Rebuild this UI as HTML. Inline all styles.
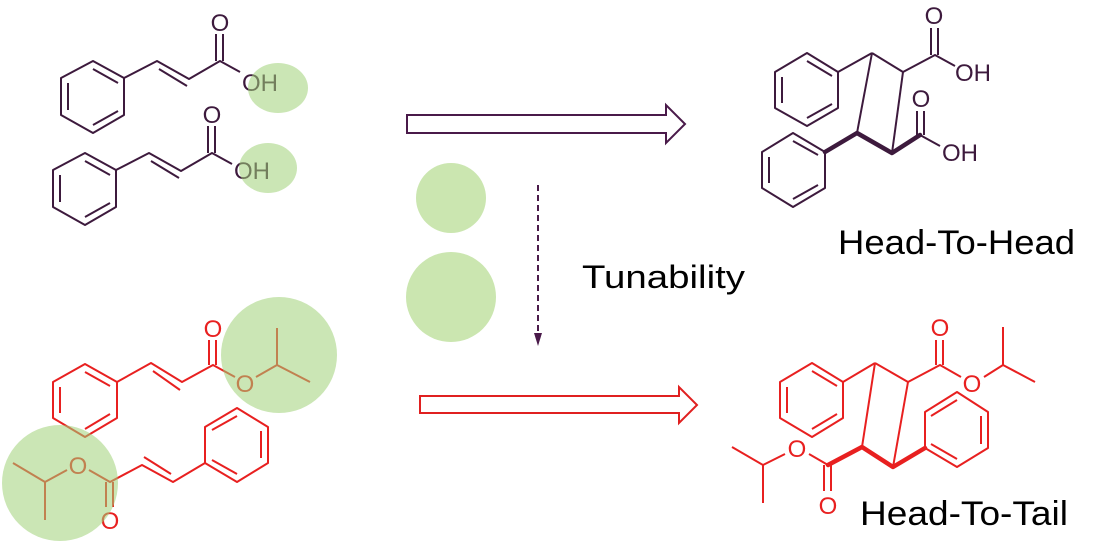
<!DOCTYPE html>
<html><head><meta charset="utf-8"><style>
html,body{margin:0;padding:0;background:#fff;}
svg{display:block;}
text{font-family:"Liberation Sans",sans-serif;}
</style></head><body>
<svg width="1102" height="560" viewBox="0 0 1102 560" xmlns="http://www.w3.org/2000/svg">
<g stroke="#3d1a3d" stroke-width="2" fill="none" stroke-linejoin="round">
  <polygon points="93,61 124,78 124,115 93,133 61,115 61,78"/>
  <line x1="68" y1="83" x2="68" y2="110"/><line x1="93" y1="69" x2="118" y2="83"/><line x1="93" y1="125" x2="118" y2="111"/>
  <polyline points="124,78 157,61 189,79 220,61 240,72"/>
  <line x1="159" y1="69" x2="187" y2="86"/>
  <line x1="216" y1="61" x2="216" y2="34"/><line x1="223" y1="61" x2="223" y2="34"/>
</g>
<g stroke="#3d1a3d" stroke-width="2" fill="none" stroke-linejoin="round" transform="translate(-8,92)">
  <polygon points="93,61 124,78 124,115 93,133 61,115 61,78"/>
  <line x1="68" y1="83" x2="68" y2="110"/><line x1="93" y1="69" x2="118" y2="83"/><line x1="93" y1="125" x2="118" y2="111"/>
  <polyline points="124,78 157,61 189,79 220,61 240,72"/>
  <line x1="159" y1="69" x2="187" y2="86"/>
  <line x1="216" y1="61" x2="216" y2="34"/><line x1="223" y1="61" x2="223" y2="34"/>
</g>
<g fill="#3d1a3d" font-size="24">
  <text x="220" y="31" text-anchor="middle">O</text>
  <text x="242" y="91">OH</text>
  <text x="212" y="123" text-anchor="middle">O</text>
  <text x="234" y="179">OH</text>
</g>

<g stroke="#3d1a3d" stroke-width="2" fill="none" stroke-linejoin="round">
  <polygon points="807,53 838,72 838,108 807,126 775,108 775,72"/>
  <line x1="782" y1="77" x2="782" y2="103"/><line x1="807" y1="61" x2="832" y2="76"/><line x1="807" y1="118" x2="832" y2="104"/>
  <line x1="838" y1="72" x2="872" y2="53"/>
  <line x1="872" y1="53" x2="903" y2="72"/>
  <line x1="872" y1="53" x2="857" y2="133"/>
  <line x1="903" y1="72" x2="892" y2="153"/>
  <polyline points="903,72 935,55 955,66"/>
  <line x1="931" y1="55" x2="931" y2="28"/><line x1="938" y1="55" x2="938" y2="28"/>
  <line x1="920" y1="135" x2="940" y2="146"/>
  <line x1="917" y1="135" x2="917" y2="111"/><line x1="924" y1="135" x2="924" y2="111"/>
  <polygon points="825,152 793,133 762,152 762,188 793,207 825,188"/>
  <line x1="769" y1="157" x2="769" y2="183"/><line x1="793" y1="141" x2="818" y2="155"/><line x1="793" y1="199" x2="818" y2="185"/>
</g>
<g stroke="#3d1a3d" stroke-width="4.5" fill="none" stroke-linejoin="round" stroke-linecap="round">
  <polyline points="825,152 857,133 892,153 920,135"/>
</g>
<g fill="#3d1a3d" font-size="24">
  <text x="934" y="24" text-anchor="middle">O</text>
  <text x="955" y="81">OH</text>
  <text x="921" y="107" text-anchor="middle">O</text>
  <text x="942" y="161">OH</text>
</g>
<text x="838" y="254" font-size="34" fill="#000" textLength="237" lengthAdjust="spacingAndGlyphs">Head-To-Head</text>

<polygon points="407,115 666,115 666,105 685,124 666,143 666,133 407,133" fill="#fff" stroke="#4a1a4a" stroke-width="2"/>
<polygon points="420,396 679,396 679,387 697,405 679,423 679,413 420,413" fill="#fff" stroke="#e02020" stroke-width="2"/>
<line x1="538" y1="185" x2="538" y2="336" stroke="#4a1a4a" stroke-width="2" stroke-dasharray="6,4"/>
<polygon points="534,333 542,333 538,346" fill="#4a1a4a"/>
<circle cx="451" cy="198" r="35" fill="#cbe6b0"/>
<circle cx="451" cy="297" r="45" fill="#cbe6b0"/>
<text x="582" y="288" font-size="32" fill="#000" textLength="163" lengthAdjust="spacingAndGlyphs">Tunability</text>

<g stroke="#e82020" stroke-width="2" fill="none" stroke-linejoin="round">
  <polygon points="53,382 85,364 117,382 117,418 85,437 53,418"/>
  <line x1="60" y1="387" x2="60" y2="413"/><line x1="85" y1="372" x2="110" y2="386"/><line x1="85" y1="429" x2="110" y2="414"/>
  <polyline points="117,382 151,363 182,382 213,365 235,377"/>
  <line x1="153" y1="371" x2="180" y2="390"/>
  <line x1="209" y1="365" x2="209" y2="340"/><line x1="216" y1="365" x2="216" y2="340"/>
  <polyline points="256,377 277,365 310,382"/><line x1="277" y1="365" x2="277" y2="328"/>
  <polygon points="237,408 268,427 268,463 237,482 205,463 205,427"/>
  <line x1="261" y1="431" x2="261" y2="458"/><line x1="237" y1="416" x2="212" y2="430"/><line x1="237" y1="474" x2="212" y2="460"/>
  <polyline points="205,463 173,482 142,465 110,482 89,470"/>
  <line x1="171" y1="474" x2="144" y2="457"/>
  <line x1="106" y1="482" x2="106" y2="507"/><line x1="113" y1="482" x2="113" y2="507"/>
  <polyline points="67,470 45,482 13,463"/><line x1="45" y1="482" x2="45" y2="520"/>
</g>
<g fill="#e82020" font-size="24">
  <text x="213" y="337" text-anchor="middle">O</text>
  <text x="245" y="392" text-anchor="middle">O</text>
  <text x="110" y="529" text-anchor="middle">O</text>
  <text x="78" y="474" text-anchor="middle">O</text>
</g>

<g fill="rgb(160,210,120)" fill-opacity="0.55">
  <ellipse cx="278" cy="88" rx="30" ry="25"/>
  <ellipse cx="268" cy="168" rx="29" ry="25"/>
  <circle cx="279" cy="355" r="58"/>
  <circle cx="60" cy="483" r="58"/>
</g>

<g stroke="#e82020" stroke-width="2" fill="none" stroke-linejoin="round">
  <polygon points="812,363 843,382 843,418 812,437 780,418 780,382"/>
  <line x1="787" y1="387" x2="787" y2="413"/><line x1="812" y1="371" x2="837" y2="386"/><line x1="812" y1="429" x2="837" y2="414"/>
  <line x1="843" y1="382" x2="875" y2="363"/>
  <line x1="875" y1="363" x2="908" y2="382"/>
  <line x1="875" y1="363" x2="862" y2="447"/>
  <line x1="908" y1="382" x2="893" y2="467"/>
  <polyline points="908,382 940,365 961,377"/>
  <line x1="936" y1="365" x2="936" y2="340"/><line x1="943" y1="365" x2="943" y2="340"/>
  <polyline points="984,377 1003,365 1035,382"/><line x1="1003" y1="365" x2="1003" y2="327"/>
  <polygon points="925,412 957,392 988,412 988,448 957,467 925,448"/>
  <line x1="981" y1="416" x2="981" y2="444"/><line x1="957" y1="400" x2="931" y2="416"/><line x1="957" y1="459" x2="931" y2="444"/>
  <line x1="824" y1="465" x2="824" y2="491"/><line x1="831" y1="465" x2="831" y2="491"/>
  <line x1="828" y1="465" x2="809" y2="454"/>
  <polyline points="785,454 763,465 732,447"/><line x1="763" y1="465" x2="763" y2="503"/>
</g>
<g stroke="#e82020" stroke-width="4.5" fill="none" stroke-linejoin="round" stroke-linecap="round">
  <polyline points="828,465 862,447 893,467 925,448"/>
</g>
<g fill="#e82020" font-size="24">
  <text x="940" y="336" text-anchor="middle">O</text>
  <text x="972" y="392" text-anchor="middle">O</text>
  <text x="828" y="514" text-anchor="middle">O</text>
  <text x="797" y="457" text-anchor="middle">O</text>
</g>
<text x="860" y="525" font-size="34" fill="#000" textLength="208" lengthAdjust="spacingAndGlyphs">Head-To-Tail</text>
</svg>
</body></html>
